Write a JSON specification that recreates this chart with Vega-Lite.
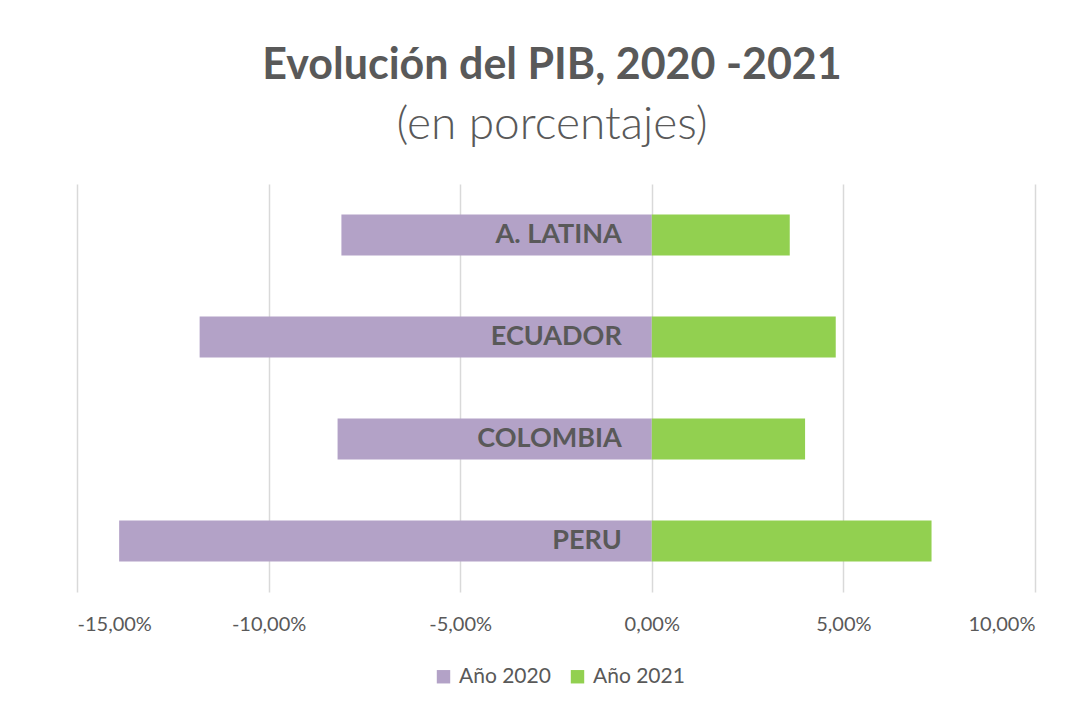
{
  "$schema": "https://vega.github.io/schema/vega-lite/v6.json",
  "width": 958,
  "height": 408,
  "autosize": {"type": "none"},
  "padding": {"left": 77, "top": 184, "right": 51, "bottom": 114},
  "background": "white",
  "config": {"view": {"stroke": null}, "font": "Lato"},
  "title": {
    "text": "Evolución del PIB, 2020 -2021",
    "subtitle": "(en porcentajes)",
    "fontSize": 43,
    "fontWeight": "bold",
    "color": "#595959",
    "subtitleFontSize": 46,
    "subtitleColor": "#595959",
    "subtitleFont": "Lato",
    "subtitleFontWeight": 300,
    "anchor": "middle",
    "dx": -4,
    "offset": 36,
    "subtitlePadding": 15
  },
  "datasets": {
    "barras": [
      {"pais": "A. LATINA", "serie": "Año 2020", "valor": -8.1},
      {"pais": "A. LATINA", "serie": "Año 2021", "valor": 3.6},
      {"pais": "ECUADOR", "serie": "Año 2020", "valor": -11.8},
      {"pais": "ECUADOR", "serie": "Año 2021", "valor": 4.8},
      {"pais": "COLOMBIA", "serie": "Año 2020", "valor": -8.2},
      {"pais": "COLOMBIA", "serie": "Año 2021", "valor": 4.0},
      {"pais": "PERU", "serie": "Año 2020", "valor": -13.9},
      {"pais": "PERU", "serie": "Año 2021", "valor": 7.3}
    ],
    "paises": [
      {"pais": "A. LATINA"},
      {"pais": "ECUADOR"},
      {"pais": "COLOMBIA"},
      {"pais": "PERU"}
    ]
  },
  "layer": [
    {
      "data": {"name": "barras"},
      "mark": {"type": "bar"},
      "encoding": {
        "y": {
          "field": "pais",
          "type": "nominal",
          "sort": ["A. LATINA", "ECUADOR", "COLOMBIA", "PERU"],
          "scale": {"paddingInner": 0.6, "paddingOuter": 0.3},
          "axis": null
        },
        "x": {
          "field": "valor",
          "type": "quantitative",
          "stack": null,
          "scale": {"domain": [-15, 10], "nice": false},
          "axis": {
            "values": [-15, -10, -5, 0, 5, 10],
            "grid": true,
            "gridColor": "#d9d9d9",
            "gridWidth": 1.5,
            "domain": false,
            "ticks": false,
            "labelFontSize": 20,
            "labelColor": "#595959",
            "labelPadding": 22,
            "title": null,
            "labelExpr": "(datum.value < 0 ? '-' : '') + replace(format(abs(datum.value), '.2f'), '.', ',') + '%'"
          }
        },
        "color": {
          "field": "serie",
          "type": "nominal",
          "scale": {"domain": ["Año 2020", "Año 2021"], "range": ["#b3a2c7", "#92d050"]},
          "legend": {
            "orient": "none",
            "legendX": 356,
            "legendY": 482,
            "direction": "horizontal",
            "title": null,
            "symbolType": "square",
            "symbolSize": 180,
            "symbolStrokeWidth": 0,
            "labelFontSize": 21,
            "labelColor": "#595959",
            "columnPadding": 16,
            "labelOffset": 5
          }
        }
      }
    },
    {
      "data": {"name": "paises"},
      "mark": {
        "type": "text",
        "align": "right",
        "baseline": "middle",
        "dx": -30,
        "fontSize": 27,
        "fontWeight": "bold",
        "color": "#595959"
      },
      "encoding": {
        "y": {
          "field": "pais",
          "type": "nominal",
          "sort": ["A. LATINA", "ECUADOR", "COLOMBIA", "PERU"]
        },
        "x": {"datum": 0},
        "text": {"field": "pais"}
      }
    }
  ]
}
